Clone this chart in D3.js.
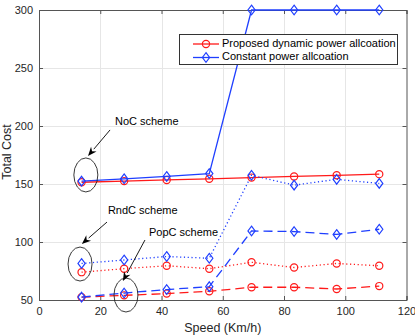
<!DOCTYPE html>
<html><head><meta charset="utf-8">
<script src="https://cdn.jsdelivr.net/npm/d3@7"></script>
<style>body{margin:0;background:#fff}svg{display:block;font-family:"Liberation Sans",Arial,sans-serif}</style>
</head><body><svg id="c" width="415" height="336"></svg>
<script>
const speeds = [13.9, 27.8, 41.7, 55.6, 69.4, 83.3, 97.2, 111.1];
const nocDynamic = [151.5, 152.5, 153.5, 154.5, 155.5, 156.5, 157.5, 158.5];
const nocConstant = [152.5, 154.5, 156.5, 159, 300, 300, 300, 300];
const rndDynamic = [74, 77, 79.5, 77, 82.5, 78, 81.5, 79.5];
const rndConstant = [81.5, 84.5, 87.5, 86, 157.5, 149, 154, 150.5];
const popDynamic = [52.5, 54, 55.5, 57.5, 61, 61, 59.5, 62];
const popConstant = [52.5, 56, 59, 61.5, 109.5, 109, 106.5, 111];
const xTicks = [0, 20, 40, 60, 80, 100, 120];
const yTicks = [50, 100, 150, 200, 250, 300];
const legendLabels = ["Proposed dynamic power allcoation", "Constant power allcoation"];
const annoLabels = ["NoC scheme", "RndC scheme", "PopC scheme"];
const annoText = [[24.8, 203.4], [22.5, 127.0], [35.9, 108.0]];
const annoArrowFrom = [[23.2, 196.6], [22.2, 117.2], [34.6, 101.7]];
const annoArrowTo = [[16.0, 174.1], [14.0, 98.3], [27.4, 66.4]];
const annoEllipse = [[15.3, 157.8], [13.4, 81.0], [28.4, 54.3]];

const RED = "#ff1a1a", BLUE = "#1f3fff";
const svg = d3.select("#c");
const L = 39, R = 406.5, T = 10, B = 300;
const x = d3.scaleLinear().domain([0, 120]).range([L, R]);
const y = d3.scaleLinear().domain([50, 300]).range([B, T]);

// grid
const g = svg.append("g");
g.selectAll(".gx").data(xTicks.slice(1, -1)).enter().append("line")
  .attr("x1", d => Math.round(x(d)) + 0.5).attr("x2", d => Math.round(x(d)) + 0.5)
  .attr("y1", T).attr("y2", B).attr("stroke", "#e6e6e6").attr("stroke-width", 1);
g.selectAll(".gy").data(yTicks.slice(1, -1)).enter().append("line")
  .attr("y1", d => Math.round(y(d)) + 0.5).attr("y2", d => Math.round(y(d)) + 0.5)
  .attr("x1", L).attr("x2", R).attr("stroke", "#e6e6e6").attr("stroke-width", 1);

// axes
const axB = d3.axisBottom(x).tickValues(xTicks).tickSize(-4).tickPadding(7).tickFormat(d3.format("d"));
const axL = d3.axisLeft(y).tickValues(yTicks).tickSize(-4).tickPadding(6).tickFormat(d3.format("d"));
const axT = d3.axisTop(x).tickValues(xTicks).tickSize(-4).tickFormat("");
const axR = d3.axisRight(y).tickValues(yTicks).tickSize(-4).tickFormat("");
function style(sel) {
  sel.selectAll("path").attr("stroke", "#555");
  sel.selectAll("line").attr("stroke", "#555");
  sel.selectAll("text").attr("fill", "#262626").style("font-size", "11px")
    .style("font-family", '"Liberation Sans",Arial,sans-serif');
}
svg.append("g").attr("transform", `translate(0,${B})`).call(axB).call(style);
svg.append("g").attr("transform", `translate(${L},0)`).call(axL).call(style);
svg.append("g").attr("transform", `translate(0,${T})`).call(axT).call(style);
svg.append("g").attr("transform", `translate(${R},0)`).call(axR).call(style);

svg.append("text").attr("x", (L + R) / 2).attr("y", 329).attr("text-anchor", "middle")
  .attr("dominant-baseline", "middle").style("font-size", "12.5px").attr("fill", "#262626").text("Speed (Km/h)");
svg.append("text").attr("transform", "translate(7.5,152) rotate(-90)").attr("text-anchor", "middle")
  .attr("dominant-baseline", "middle").style("font-size", "12.5px").attr("fill", "#262626").text("Total Cost");

// series
const series = [
  {v: nocDynamic, c: RED, m: "o", dash: null},
  {v: nocConstant, c: BLUE, m: "d", dash: null},
  {v: rndDynamic, c: RED, m: "o", dash: "1.2,2.6"},
  {v: rndConstant, c: BLUE, m: "d", dash: "1.2,2.6"},
  {v: popDynamic, c: RED, m: "o", dash: "9,5"},
  {v: popConstant, c: BLUE, m: "d", dash: "9,5"}
];
const line = d3.line().x((d, i) => x(speeds[i])).y(d => y(d));
const diamond = "M0,-4.8L3.6,0L0,4.8L-3.6,0Z";
function marker(sel, m, c) {
  if (m === "o") sel.append("circle").attr("r", 3.6).attr("fill", "none").attr("stroke", c).attr("stroke-width", 1.2);
  else sel.append("path").attr("d", diamond).attr("fill", "none").attr("stroke", c).attr("stroke-width", 1.2);
}
series.forEach(s => {
  svg.append("path").datum(s.v).attr("d", line).attr("fill", "none").attr("stroke", s.c)
    .attr("stroke-width", 1.3).attr("stroke-dasharray", s.dash);
  svg.append("g").selectAll("g").data(s.v).enter().append("g")
    .attr("transform", (d, i) => `translate(${x(speeds[i])},${y(d)})`)
    .each(function () { marker(d3.select(this), s.m, s.c); });
});

// legend
const lg = svg.append("g");
lg.append("rect").attr("x", 179.5).attr("y", 34.5).attr("width", 218).attr("height", 30)
  .attr("fill", "#fff").attr("stroke", "#333").attr("stroke-width", 1);
[[RED, "o"], [BLUE, "d"]].forEach((e, i) => {
  const yy = 44 + i * 13.5;
  lg.append("line").attr("x1", 193).attr("x2", 219).attr("y1", yy).attr("y2", yy).attr("stroke", e[0]).attr("stroke-width", 1.3);
  marker(lg.append("g").attr("transform", `translate(206,${yy})`), e[1], e[0]);
  lg.append("text").attr("x", 222).attr("y", yy).attr("dominant-baseline", "middle")
    .style("font-size", "11px").attr("fill", "#000").text(legendLabels[i]);
});

// annotations
const an = svg.append("g");
annoLabels.forEach((t, i) => {
  an.append("ellipse").attr("cx", x(annoEllipse[i][0])).attr("cy", y(annoEllipse[i][1]))
    .attr("rx", 12).attr("ry", 17).attr("fill", "none").attr("stroke", "#222").attr("stroke-width", 0.9);
  const x1 = x(annoArrowFrom[i][0]), y1 = y(annoArrowFrom[i][1]);
  const x2 = x(annoArrowTo[i][0]), y2 = y(annoArrowTo[i][1]);
  const ang = Math.atan2(y2 - y1, x2 - x1), hl = 9, hw = 3.6;
  const bx = x2 - hl * Math.cos(ang), by = y2 - hl * Math.sin(ang);
  an.append("line").attr("x1", x1).attr("y1", y1).attr("x2", bx).attr("y2", by).attr("stroke", "#000").attr("stroke-width", 0.9);
  const px = -Math.sin(ang), py = Math.cos(ang);
  an.append("path").attr("d", `M${x2},${y2}L${bx + px * hw},${by + py * hw}L${bx + 0.3 * hl * Math.cos(ang)},${by + 0.3 * hl * Math.sin(ang)}L${bx - px * hw},${by - py * hw}Z`)
    .attr("fill", "#000");
  an.append("text").attr("x", x(annoText[i][0])).attr("y", y(annoText[i][1])).attr("dominant-baseline", "middle")
    .style("font-size", "11px").attr("fill", "#000").text(t);
});
</script></body></html>
